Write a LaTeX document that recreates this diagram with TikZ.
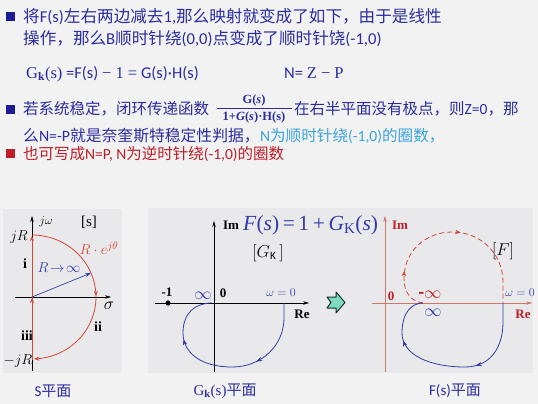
\documentclass[tikz,border=0pt]{standalone}
\usepackage{fontspec}
\setmainfont{Carlito}
\newfontfamily\cjk{Noto Sans CJK SC}
\newfontfamily\tms{Liberation Serif}
\usetikzlibrary{arrows.meta,decorations.markings}
\definecolor{bgc}{RGB}{242,242,242}
\definecolor{panelc}{RGB}{233,233,235}
\definecolor{txtblue}{RGB}{44,44,160}
\definecolor{navy}{RGB}{28,28,150}
\definecolor{cyanc}{RGB}{60,165,220}
\definecolor{redt}{RGB}{190,30,40}
\definecolor{curvered}{RGB}{215,70,55}
\definecolor{curveblue}{RGB}{50,60,170}
\definecolor{axisred}{RGB}{205,120,105}
\begin{document}
\begin{tikzpicture}[x=1pt,y=-1pt,
  txt/.style={inner sep=0pt,anchor=base west,text=txtblue,font=\fontsize{15.5}{18}\selectfont},
  txtbig/.style={txt,font=\fontsize{16.6}{19}\selectfont},
  lbl/.style={inner sep=0pt,font=\tms\fontsize{13}{15}\selectfont},
  captxt/.style={inner sep=0pt,text=txtblue,font=\fontsize{15}{18}\selectfont},
  ax/.style={line width=0.6pt,-{Stealth[length=6pt,width=3.5pt]}},
  midarrow/.style={postaction={decorate},decoration={markings,mark=at position #1 with {\arrow{Stealth[length=5pt,width=4pt]}}}},
  bullet/.style={fill=navy}]
\fill[bgc] (0,0) rectangle (538,404);
\useasboundingbox (0,0) rectangle (538,404);
% panels
\fill[panelc] (3,209) rectangle (122,373);
\fill[panelc] (148,208) rectangle (533,373);
% --- text block
\fill[bullet] (6,12) rectangle (15,21);
\node[txtbig] (l1) at (23,23) {{\cjk 将}F(s){\cjk 左右两边减去}1,{\cjk 那么映射就变成了如下，由于是线性}};
\node[txtbig] (l2) at (23,45) {{\cjk 操作，那么}B{\cjk 顺时针绕}(0,0){\cjk 点变成了顺时针饶}(-1,0)};
\node[txt,font=\fontsize{16.5}{19}\selectfont] (f1) at (26,78) {{\tms G\textsubscript{\bfseries k}(s)} =F(s) {\tms − 1 =} G(s)·H(s)};
\node[txt,font=\fontsize{16.5}{19}\selectfont] (f2) at (284,78) {N= {\tms Z − P}};
\fill[bullet] (6,105) rectangle (15,114);
\node[txt] (l3a) at (23,114) {\cjk 若系统稳定，闭环传递函数};
\node[inner sep=0pt,text=txtblue,font=\tms\bfseries\fontsize{12.5}{13}\selectfont] (fn) at (254,100) {G(\textit{s})};
\draw[txtblue,line width=0.9pt] (217,108) -- (292,108);
\node[inner sep=0pt,text=txtblue,font=\tms\bfseries\fontsize{12.5}{13}\selectfont] (fd) at (254,117) {1+\textit{G}(\textit{s})·H(s)};
\node[txt] (l3b) at (294,114) {{\cjk 在右半平面没有极点，则}Z=0{\cjk ，那}};
\node[txt,font=\fontsize{15.8}{18}\selectfont] (l4a) at (23,141) {{\cjk 么}N=-P{\cjk 就是奈奎斯特稳定性判据，}};
\node[txt,text=cyanc,font=\fontsize{15.6}{18}\selectfont,anchor=base west] (l4b) at (l4a.base east) {N{\cjk 为顺时针绕}(-1,0){\cjk 的圈数，}};
\fill[redt] (6,149) rectangle (15,158);
\node[txt,text=redt] (l5) at (23,159) {{\cjk 也可写成}N=P, N{\cjk 为逆时针绕}(-1,0){\cjk 的圈数}};
% --- S plane
\draw[ax] (32,371) -- (32,216);
\draw[ax] (15,297) -- (111,297);
\draw[curvered,line width=0.8pt,midarrow=0.5,-{Stealth[length=5pt,width=4pt]}] (32,360) -- (32,236);
\draw[curvered,line width=0.8pt,midarrow=0.5,-{Stealth[length=5pt,width=4pt]}]
  plot[domain=90:-88,samples=60,smooth] ({32+64*cos(\x)},{297-62*sin(\x)});
\draw[curveblue,line width=0.7pt,-{Stealth[length=6pt,width=4pt]}] (32,297) -- (91,273);
\node[lbl,font=\fontsize{13}{15}\selectfont] (jw) at (46,222) {$j\omega$};
\node[lbl,font=\tms\fontsize{15}{17}\selectfont] (sb) at (89,222) {[s]};
\node[lbl,font=\fontsize{15}{17}\selectfont] (jr) at (19,237) {$jR$};
\node[lbl,text=curvered,font=\fontsize{15}{17}\selectfont] (re) at (99,248) {$R\cdot e^{j\theta}$};
\node[lbl,font=\tms\bfseries\fontsize{14}{16}\selectfont] (i1) at (25,264) {i};
\node[lbl,text=curveblue,font=\fontsize{15}{17}\selectfont] (rinf) at (59,268) {$R\!\to\!\infty$};
\node[lbl,font=\fontsize{17}{18}\selectfont] (sig) at (109,306) {$\sigma$};
\node[lbl,font=\tms\bfseries\fontsize{14}{16}\selectfont] (i2) at (98,327) {ii};
\node[lbl,font=\tms\bfseries\fontsize{14}{16}\selectfont] (i3) at (27,336) {iii};
\node[lbl,font=\fontsize{15}{17}\selectfont] (mjr) at (18,361) {$-jR$};
\node[captxt] (c1) at (53,391) {S{\cjk 平面}};
% --- Gk plane
\draw[ax] (214,372) -- (214,221);
\draw[ax] (155,303) -- (309,303);
\draw[curveblue,line width=0.8pt,midarrow=0.33,midarrow=0.74]
  (284,303) -- (284,318) .. controls (284,345) and (262,367) .. (232,367)
  .. controls (200,367) and (183,352) .. (183,333)
  .. controls (183,312) and (196,303) .. (212,303);
\fill (168,303) circle (2.6pt);
\node[lbl,font=\tms\bfseries\fontsize{13}{15}\selectfont] (im1) at (231,225) {Im};
\node[inner sep=0pt,text=curveblue,font=\tms\fontsize{21.5}{24}\selectfont,anchor=west] (fe) at (243,225) {\textit{F}(\textit{s})\,=\,1\,+\,\textit{G}\textsubscript{K}(\textit{s})};
\node[lbl,font=\fontsize{16}{18}\selectfont] (gk) at (268,253) {$[G_{\mathrm{K}}\,]$};
\node[lbl,font=\tms\bfseries\fontsize{13}{15}\selectfont] (m1) at (167,292) {-1};
\node[lbl,text=curveblue,font=\fontsize{18}{18}\selectfont] (inf1) at (203,296) {$\infty$};
\node[lbl,font=\tms\bfseries\fontsize{13}{15}\selectfont] (z1) at (223,293) {0};
\node[lbl,text=curveblue,font=\fontsize{13}{15}\selectfont] (w1) at (281,293) {$\omega=0$};
\node[lbl,font=\tms\bfseries\fontsize{13}{15}\selectfont] (re1) at (302,314) {Re};
\node[captxt] (c2) at (225,391) {{\tms G\textsubscript{\bfseries k}(s)}{\cjk 平面}};
% --- block arrow
\filldraw[fill={rgb,255:red,125;green,220;blue,190},draw={rgb,255:red,25;green,45;blue,45},line width=1pt,line join=round]
  (327,297) -- (336,297) -- (336,292) -- (345,302.5) -- (336,313) -- (336,308) -- (327,308) -- (331,302.5) -- cycle;
% --- F plane
\draw[ax,axisred] (385,372) -- (385,216);
\draw[ax,axisred] (372,303) -- (532,303);
\draw[curvered,line width=0.8pt,dashed,dash pattern=on 5pt off 3pt,midarrow=0.2,midarrow=0.56]
  (423,303) .. controls (410,301) and (404,292) .. (404,278)
  .. controls (404,252) and (425,232) .. (452,232)
  .. controls (482,232) and (503,255) .. (503,282) -- (503,303);
\draw[curveblue,line width=0.8pt,midarrow=0.36,midarrow=0.76]
  (503,303) -- (503,322) .. controls (503,348) and (490,367) .. (465,367)
  .. controls (430,367) and (402,355) .. (402,333)
  .. controls (402,312) and (412,303) .. (423,303);
\node[lbl,text=redt,font=\tms\bfseries\fontsize{13}{15}\selectfont] (im2) at (400,225) {Im};
\node[lbl,font=\fontsize{16}{18}\selectfont] (fb) at (503,251) {$[F]$};
\node[lbl,text=redt,font=\tms\bfseries\fontsize{13}{15}\selectfont] (z2) at (391,296) {0};
\node[lbl,text=redt,font=\fontsize{18}{18}\selectfont] (minf) at (430,295) {\textbf{-}$\infty$};
\node[lbl,text=curveblue,font=\fontsize{18}{18}\selectfont] (inf2) at (433,313) {$\infty$};
\node[lbl,text=curveblue,font=\fontsize{13}{15}\selectfont] (w2) at (520,293) {$\omega=0$};
\node[lbl,text=redt,font=\tms\bfseries\fontsize{13}{15}\selectfont] (re2) at (523,314) {Re};
\node[captxt] (c3) at (455,391) {F(s){\cjk 平面}};
\end{tikzpicture}
\end{document}
